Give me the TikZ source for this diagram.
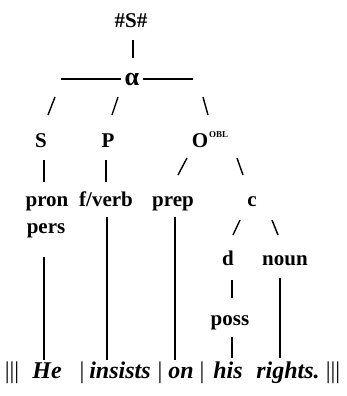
\documentclass[tikz,border=0pt]{standalone}
\usepackage{fontspec}
\setmainfont{Liberation Serif}
\usetikzlibrary{positioning}

\begin{document}
\begin{tikzpicture}[x=1pt, y=-1pt,
    lbl/.style={inner sep=0pt, anchor=base, font=\fontsize{21}{21}\selectfont\bfseries},
    word/.style={inner sep=0pt, anchor=base, font=\fontsize{24}{24}\selectfont\bfseries\itshape},
    bar/.style={inner sep=0pt, anchor=base, font=\fontsize{24}{24}\selectfont},
    stem/.style={line width=1.4pt}]
  \useasboundingbox (0,0) rectangle (346,396);
  % Root and alpha
  \node[lbl] (root) at (131,28) {\#S\#};
  \node[lbl, font=\fontsize{26}{26}\selectfont\bfseries] (alpha) at (132,85) {α};
  \draw[stem] ([shift={(2,12)}]root.base) -- ([shift={(1,-27)}]alpha.base);
  \draw[stem] ([shift={(-4,0)}]alpha.west) -- ([shift={(-64,0)}]alpha.west);
  \draw[stem] ([shift={(4,0)}]alpha.east) -- ([shift={(54,0)}]alpha.east);
  % Functions
  \node[lbl] (S) at (41,147) {S};
  \node[lbl] (P) at (108,147) {P};
  \node[lbl] (O) at (200,147) {O};
  \node[inner sep=0pt, anchor=base west, font=\fontsize{9}{9}\selectfont\bfseries] (obl) at (209,137) {OBL};
  \draw[stem] ([shift={(7,-32)}]S.base) -- ([shift={(14,-50)}]S.base);
  \draw[stem] ([shift={(4,-32)}]P.base) -- ([shift={(10,-50)}]P.base);
  \draw[stem] ([shift={(3,-50)}]O.base) -- ([shift={(8,-32)}]O.base);
  % Classes
  \node[lbl] (pron) at (47,206) {pron};
  \node[lbl] (pers) at (46,233) {pers};
  \node[lbl] (fverb) at (106,206) {f/verb};
  \node[lbl] (prep) at (173,206) {prep};
  \node[lbl] (c) at (252,206) {c};
  \draw[stem] ([shift={(3,13)}]S.base) -- ([shift={(-3,-24)}]pron.base);
  \draw[stem] ([shift={(-2,13)}]P.base) -- ([shift={(0,-24)}]fverb.base);
  \draw[stem] ([shift={(5,-31)}]prep.base) -- ([shift={(14,-48)}]prep.base);
  \draw[stem] ([shift={(-15,-48)}]c.base) -- ([shift={(-9,-31)}]c.base);
  % Cluster
  \node[lbl] (d) at (228,265) {d};
  \node[lbl] (noun) at (285,265) {noun};
  \node[lbl] (poss) at (230,325) {poss};
  \draw[stem] ([shift={(5,-30)}]d.base) -- ([shift={(12,-45)}]d.base);
  \draw[stem] ([shift={(-13,-45)}]noun.base) -- ([shift={(-7,-30)}]noun.base);
  \draw[stem] ([shift={(4,15)}]d.base) -- ([shift={(2,-27)}]poss.base);
  % Sentence
  \node[bar] (b1) at (12,378) {|||};
  \node[word] (he) at (47,378) {He};
  \node[bar] (b2) at (82,378) {|};
  \node[word] (insists) at (120,378) {insists};
  \node[bar] (b3) at (160,378) {|};
  \node[word] (on) at (181,378) {on};
  \node[bar] (b4) at (202,378) {|};
  \node[word] (his) at (228,378) {his};
  \node[word] (rights) at (288,378) {rights.};
  \node[bar] (b5) at (333,378) {|||};
  % Lines down to the words
  \draw[stem] ([shift={(-2,24)}]pers.base) -- ([shift={(-3,-18)}]he.base);
  \draw[stem] ([shift={(1,11)}]fverb.base) -- ([shift={(-13,-18)}]insists.base);
  \draw[stem] ([shift={(2,11)}]prep.base) -- ([shift={(-6,-18)}]on.base);
  \draw[stem] ([shift={(2,12)}]poss.base) -- ([shift={(4,-20)}]his.base);
  \draw[stem] ([shift={(-5,13)}]noun.base) -- ([shift={(-8,-20)}]rights.base);
\end{tikzpicture}
\end{document}
